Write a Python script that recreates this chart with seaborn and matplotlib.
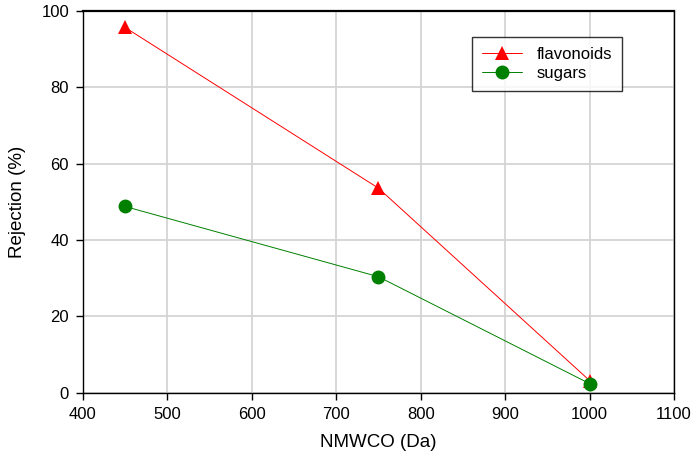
import pandas as pd
import seaborn as sns
import matplotlib.pyplot as plt

# valores
nmwco = [450, 750, 1000]
flavonoides = [95.7, 53.6, 3.2]
acucares = [48.8, 30.4, 2.4]

df = pd.DataFrame({
    'nmwco': nmwco * 2,
    'rejeicao': flavonoides + acucares,
    'grupo': ['flavonoids'] * 3 + ['sugars'] * 3,
})

sns.set_style('white', {'xtick.bottom': True, 'ytick.left': True,
                        'text.color': 'black', 'axes.labelcolor': 'black',
                        'xtick.color': 'black', 'ytick.color': 'black'})
plt.rcParams['font.family'] = ['Liberation Sans', 'DejaVu Sans']
plt.rcParams['xtick.major.size'] = 5
plt.rcParams['ytick.major.size'] = 5
plt.rcParams['xtick.major.width'] = 1
plt.rcParams['ytick.major.width'] = 1

fig = plt.figure(figsize=(6.97, 4.61), dpi=100)
ax = fig.add_axes([0.119, 0.148, 0.848, 0.828])

sns.lineplot(data=df, x='nmwco', y='rejeicao', hue='grupo', style='grupo',
             palette={'flavonoids': 'red', 'sugars': 'green'},
             markers={'flavonoids': '^', 'sugars': 'o'}, dashes=False,
             linewidth=0.7, markersize=10, markeredgewidth=0, ax=ax)

ax.set_xlim(400, 1100)
ax.set_ylim(0, 100)
ax.set_xticks(range(400, 1101, 100))
ax.set_yticks(range(0, 101, 20))
ax.grid(True, color='#d4d4d4', linewidth=1.3)
ax.set_axisbelow(True)
for s in ax.spines.values():
    s.set_color('black')
    s.set_linewidth(1.0)
ax.spines['top'].set_linewidth(1.6)
ax.tick_params(axis='both', direction='out', length=5, width=1, colors='black',
               labelsize=12, left=True, bottom=True, pad=5)

ax.set_xlabel('NMWCO (Da)', fontsize=13.5, labelpad=9)
ax.set_ylabel('Rejection (%)', fontsize=13.5, labelpad=11)

leg = ax.legend(loc='upper left', bbox_to_anchor=(0.658, 0.932), frameon=True,
                fancybox=False, fontsize=12, borderpad=0.6, handlelength=2.4,
                labelspacing=0.25, handletextpad=0.9, borderaxespad=0)
leg.get_frame().set_edgecolor('black')
leg.get_frame().set_linewidth(1.0)

plt.savefig('out.png', dpi=100)
